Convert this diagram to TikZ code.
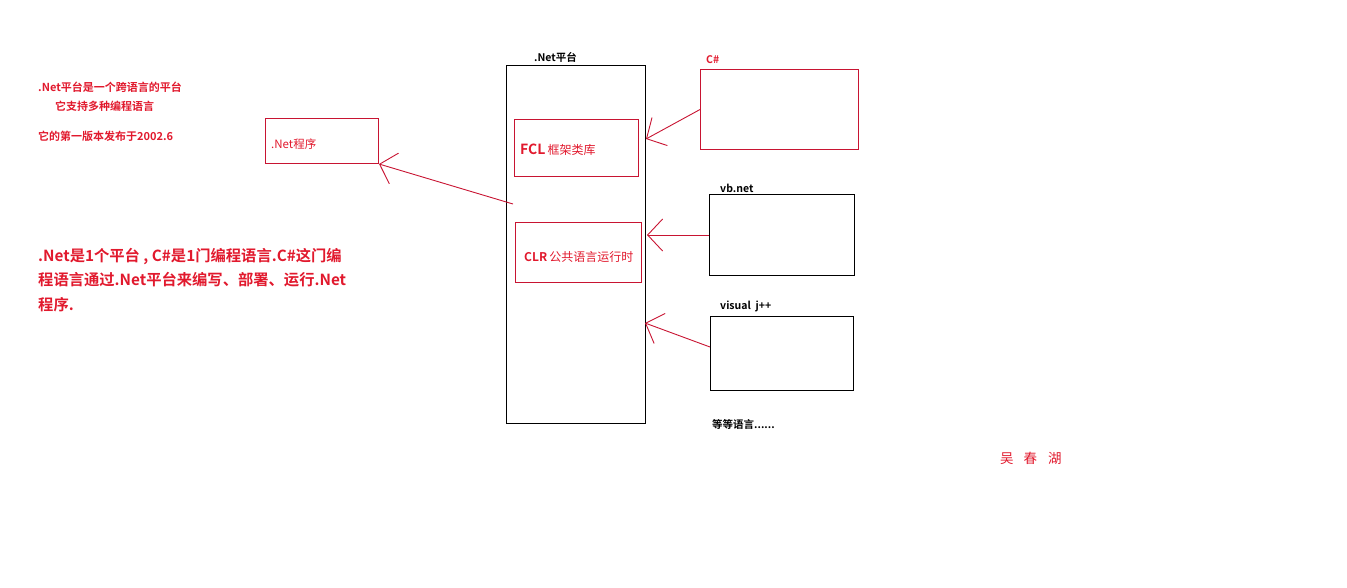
\documentclass[tikz,border=0pt]{standalone}
\usepackage{fontspec}
\setmainfont{Noto Sans CJK SC}[BoldFont={Noto Sans CJK SC Bold}]
\usetikzlibrary{arrows.meta}
\definecolor{netred}{RGB}{225, 25, 45}
\definecolor{linered}{RGB}{200, 20, 50}

\tikzset{
  redbox/.style={draw=linered, line width=1pt, anchor=north west, inner sep=0pt},
  blackbox/.style={draw=black, line width=1pt, anchor=north west, inner sep=0pt},
  redtext/.style={text=netred, anchor=west, inner sep=0pt},
  notetext/.style={redtext, font=\fontsize{11}{13}\selectfont\bfseries},
  boxlabel/.style={anchor=west, inner sep=0pt, font=\fontsize{10.5}{12}\selectfont\bfseries},
  pointer/.style={draw=linered, line width=0.9pt, -{Straight Barb[length=15pt, width=32pt]}},
}

\begin{document}
\begin{tikzpicture}[x=1pt, y=-1pt]

  \useasboundingbox (0, 0) rectangle (1347, 587);

  % notes at the top left
  \node[notetext] (note1) at (38, 87) {.Net平台是一个跨语言的平台};
  \node[notetext] (note2) at (55, 106) {它支持多种编程语言};
  \node[notetext] (note3) at (38, 136) {它的第一版本发布于2002.6};

  % the program
  \node[redbox, minimum width=113pt, minimum height=45pt] (prog) at (265, 118) {};
  \node[redtext, font=\fontsize{11.5}{13}\selectfont] (progtext) at (271, 144) {.Net程序};

  % the platform
  \node[blackbox, minimum width=139pt, minimum height=358pt] (platform) at (506, 65) {};
  \node[boxlabel] (platformtitle) at (534, 57) {.Net平台};

  \node[redbox, minimum width=124pt, minimum height=57pt] (fcl) at (514, 119) {};
  \node[redtext] (fcltext) at (520, 150) {{\fontsize{14}{16}\selectfont\bfseries FCL} {\fontsize{12}{14}\selectfont 框架类库}};

  \node[redbox, minimum width=126pt, minimum height=60pt] (clr) at (515, 222) {};
  \node[redtext] (clrtext) at (524, 257) {{\fontsize{12}{14}\selectfont\bfseries CLR} {\fontsize{12}{14}\selectfont 公共语言运行时}};

  % languages
  \node[redbox, minimum width=158pt, minimum height=80pt] (csharp) at (700, 69) {};
  \node[boxlabel, text=netred] (csharplabel) at (706, 60) {C\#};

  \node[blackbox, minimum width=145pt, minimum height=81pt] (vbnet) at (709, 194) {};
  \node[boxlabel] (vbnetlabel) at (720, 188) {vb.net};

  \node[blackbox, minimum width=143pt, minimum height=74pt] (vjpp) at (710, 316) {};
  \node[boxlabel] (vjpplabel) at (720, 306) {visual\ \ j++};

  \node[boxlabel] (others) at (712, 424) {等等语言......};

  % arrows
  \coordinate (platformout) at (513, 204);
  \coordinate (csin) at (646, 139);
  \coordinate (vbin) at (647, 235);
  \coordinate (vjin) at (645, 323);
  \coordinate (vjout) at (710, 347);

  \draw[pointer] (platformout) -- (prog.south east);
  \draw[pointer] (csharp.west) -- (csin);
  \draw[pointer] (vbnet.west) -- (vbin);
  \draw[pointer] (vjout) -- (vjin);

  % summary
  \node[text=netred, anchor=north west, inner sep=0pt, align=left,
        font=\fontsize{15.3}{24.5}\selectfont\bfseries] (summary) at (38, 248)
    {.Net是1个平台 , C\#是1门编程语言.C\#这门编\\
     程语言通过.Net平台来编写、部署、运行.Net\\
     程序.};

  \node[redtext, font=\fontsize{13.5}{15}\selectfont] (author) at (1000, 458) {吴\hspace{10pt}春\hspace{11pt}湖};

\end{tikzpicture}
\end{document}
